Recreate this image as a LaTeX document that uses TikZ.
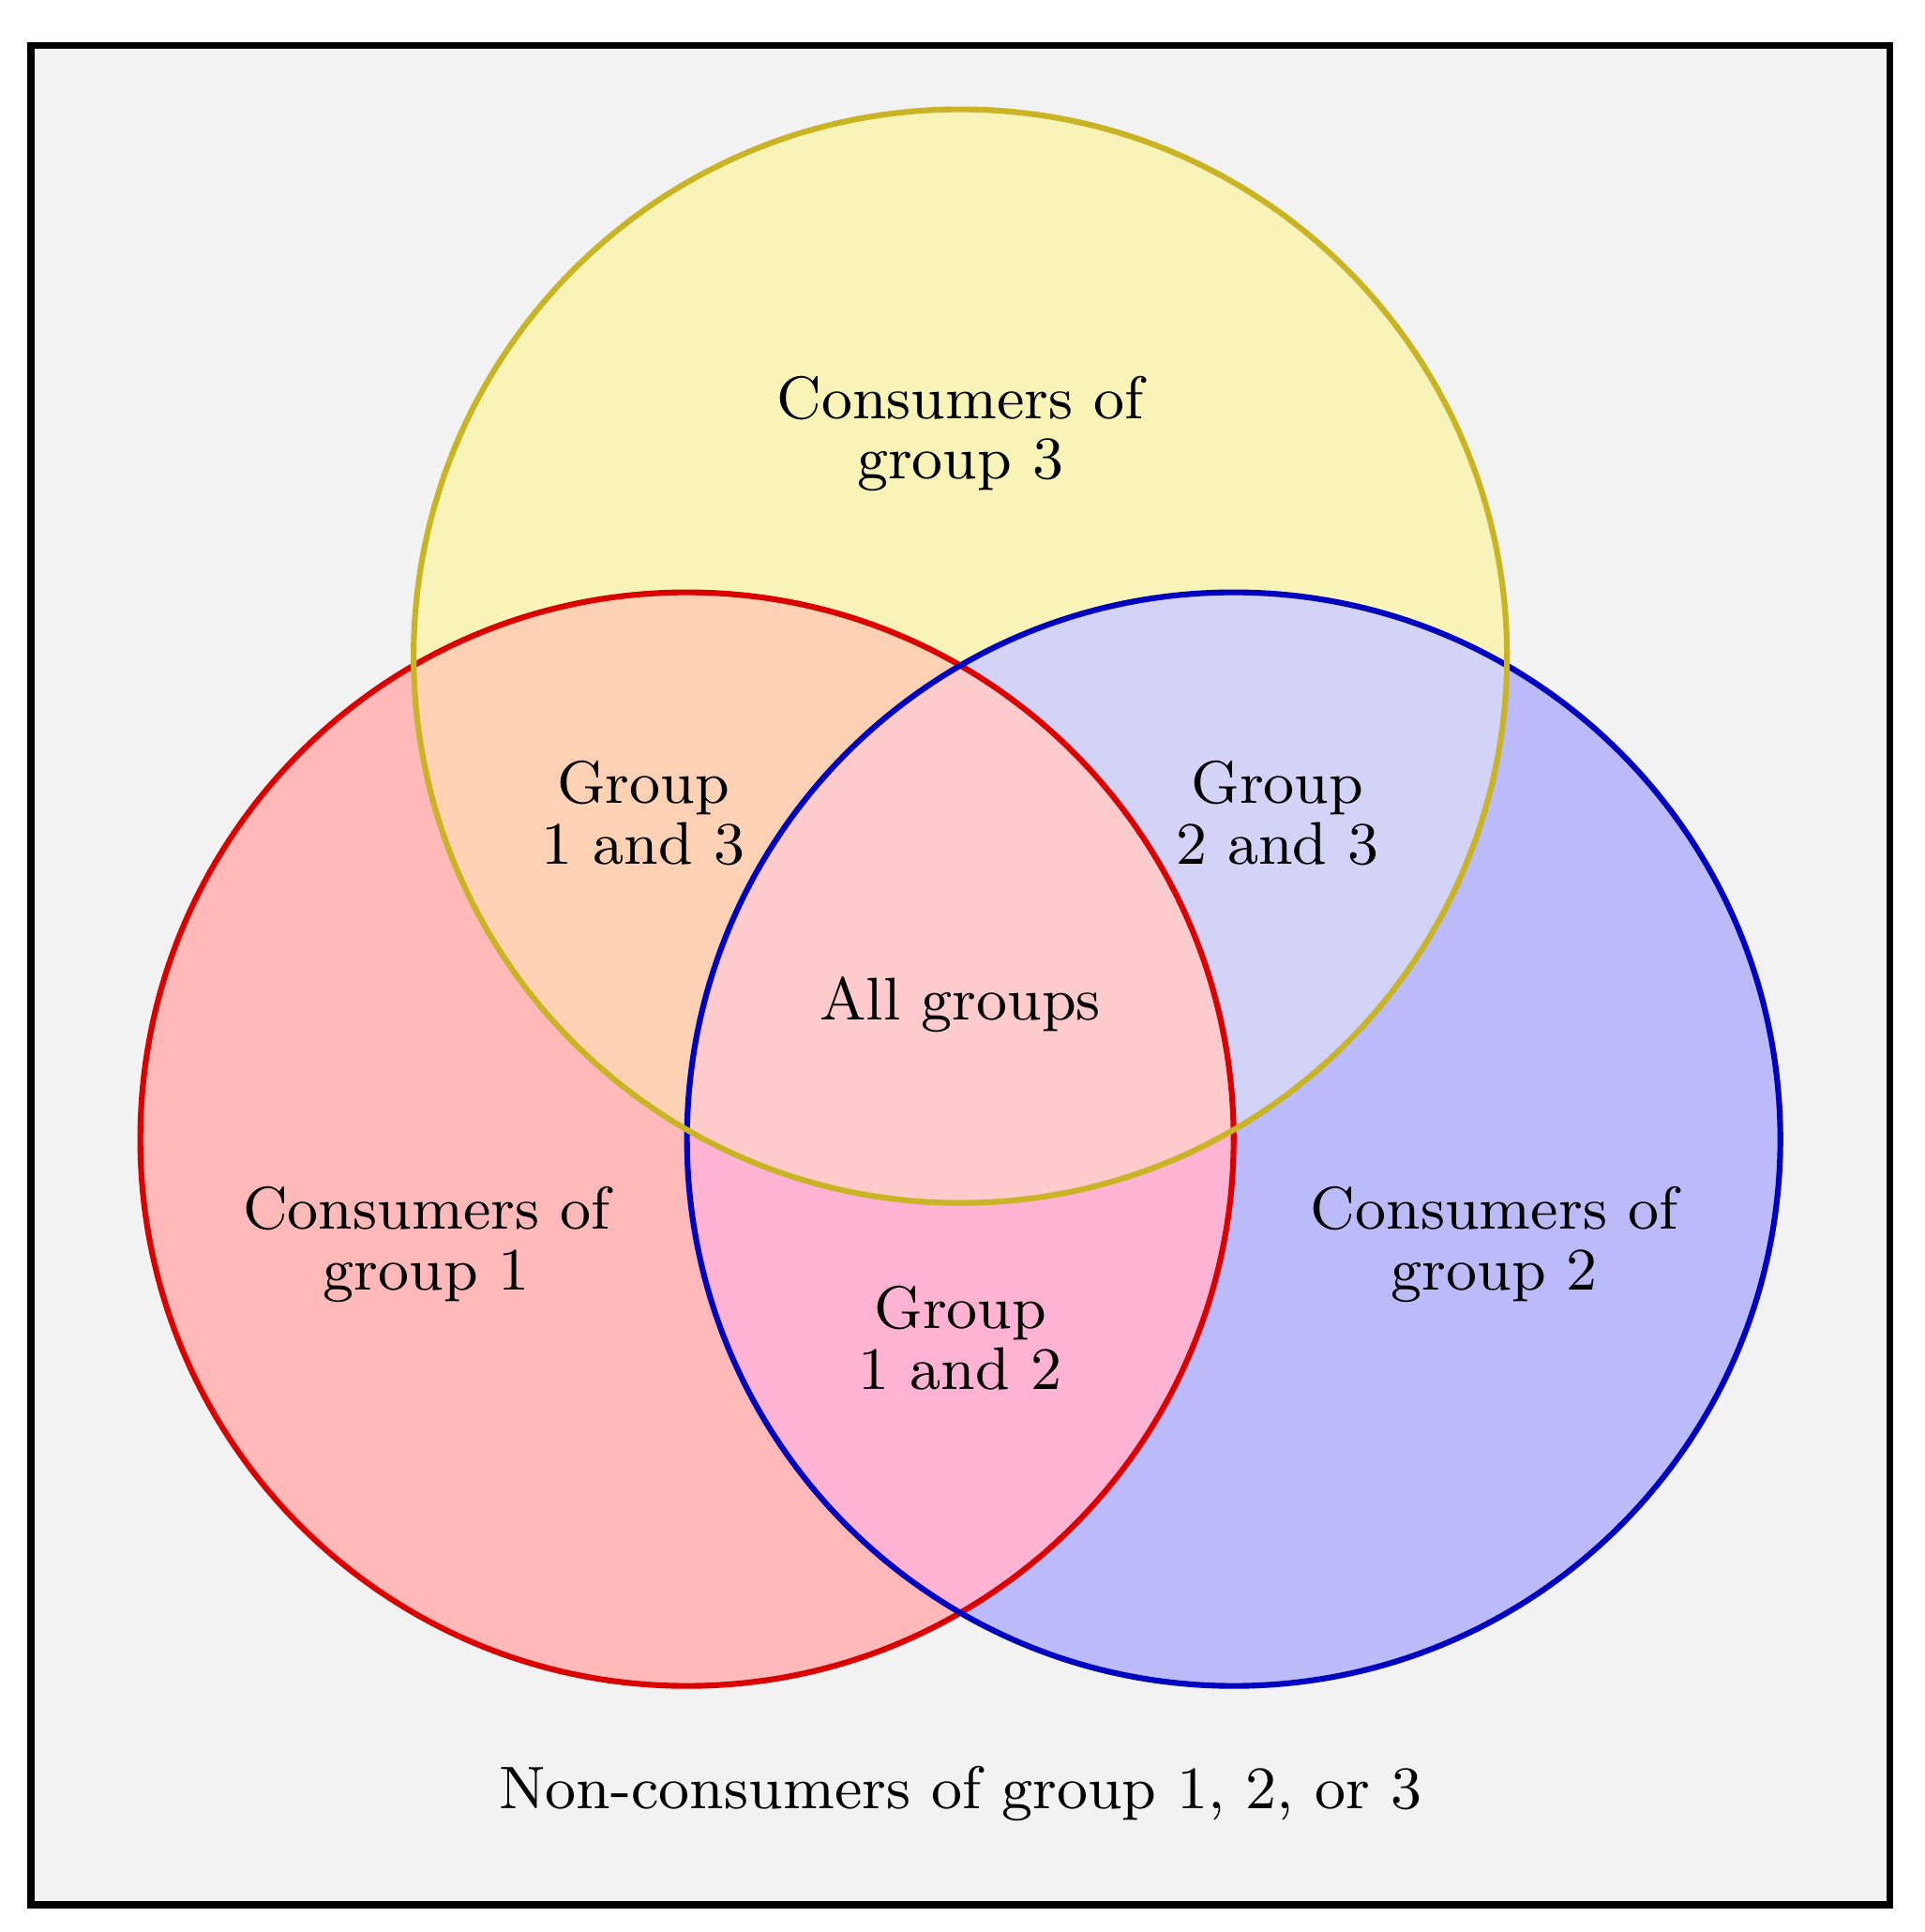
\documentclass[tikz,border=0pt]{standalone}
\usepackage{tikz}
\definecolor{bgcol}{HTML}{F2F2F2}
\definecolor{onefill}{HTML}{FFB9B9}
\definecolor{twofill}{HTML}{BBBBFA}
\definecolor{threefill}{HTML}{F8F4B7}
\definecolor{onethreefill}{HTML}{FDD1B3}
\definecolor{twothreefill}{HTML}{D3D3F8}
\definecolor{onetwofill}{HTML}{FEB3D2}
\definecolor{allfill}{HTML}{FECBCC}
\definecolor{oneline}{HTML}{DA0000}
\definecolor{twoline}{HTML}{0000C0}
\definecolor{threeline}{HTML}{C8B425}

\begin{document}
\begin{tikzpicture}[
  every node/.style={align=center,inner sep=2pt,
   font=\fontsize{9.4pt}{9.5pt}\selectfont},
  setline/.style={line width=0.9pt},
  frameline/.style={line width=1.1pt,draw=black,fill=bgcol}
  ]
  \useasboundingbox (-5.27,-4.35) rectangle (5.29,6.25);
  \draw[frameline] (-5.1,-4.2) rectangle (5.1,6);

  \coordinate (S1) at (-1.5,0);
  \coordinate (S2) at (1.5,0);
  \coordinate (S3) at (0,2.65);

  % single sets
  \fill[onefill] (S1) circle (3);
  \fill[twofill] (S2) circle (3);
  \fill[threefill] (S3) circle (3);

  % overlaps
  \begin{scope}
   \clip (S1) circle (3);
   \fill[onetwofill] (S2) circle (3);
   \fill[onethreefill] (S3) circle (3);
  \end{scope}
  \begin{scope}
   \clip (S2) circle (3);
   \fill[twothreefill] (S3) circle (3);
  \end{scope}
  \begin{scope}
   \clip (S1) circle (3);
   \clip (S2) circle (3);
   \fill[allfill] (S3) circle (3);
  \end{scope}

  \draw[setline,oneline] (S1) circle (3);
  \draw[setline,twoline] (S2) circle (3);
  \draw[setline,threeline] (S3) circle (3);

  \node (only3) at (0,3.87) {Consumers of\\group 3};
  \node (only1) at (-2.93,-0.58) {Consumers of\\group 1};
  \node (only2) at (2.93,-0.58) {Consumers of\\group 2};
  \node (both13) at (-1.74,1.79) {Group\\1 and 3};
  \node (both23) at (1.74,1.79) {Group\\2 and 3};
  \node (both12) at (0,-1.09) {Group\\1 and 2};
  \node (allsets) at (0,0.74) {All groups};
  \node (none) at (0,-3.59) {Non-consumers of group 1, 2, or 3};
 \end{tikzpicture}
\end{document}
